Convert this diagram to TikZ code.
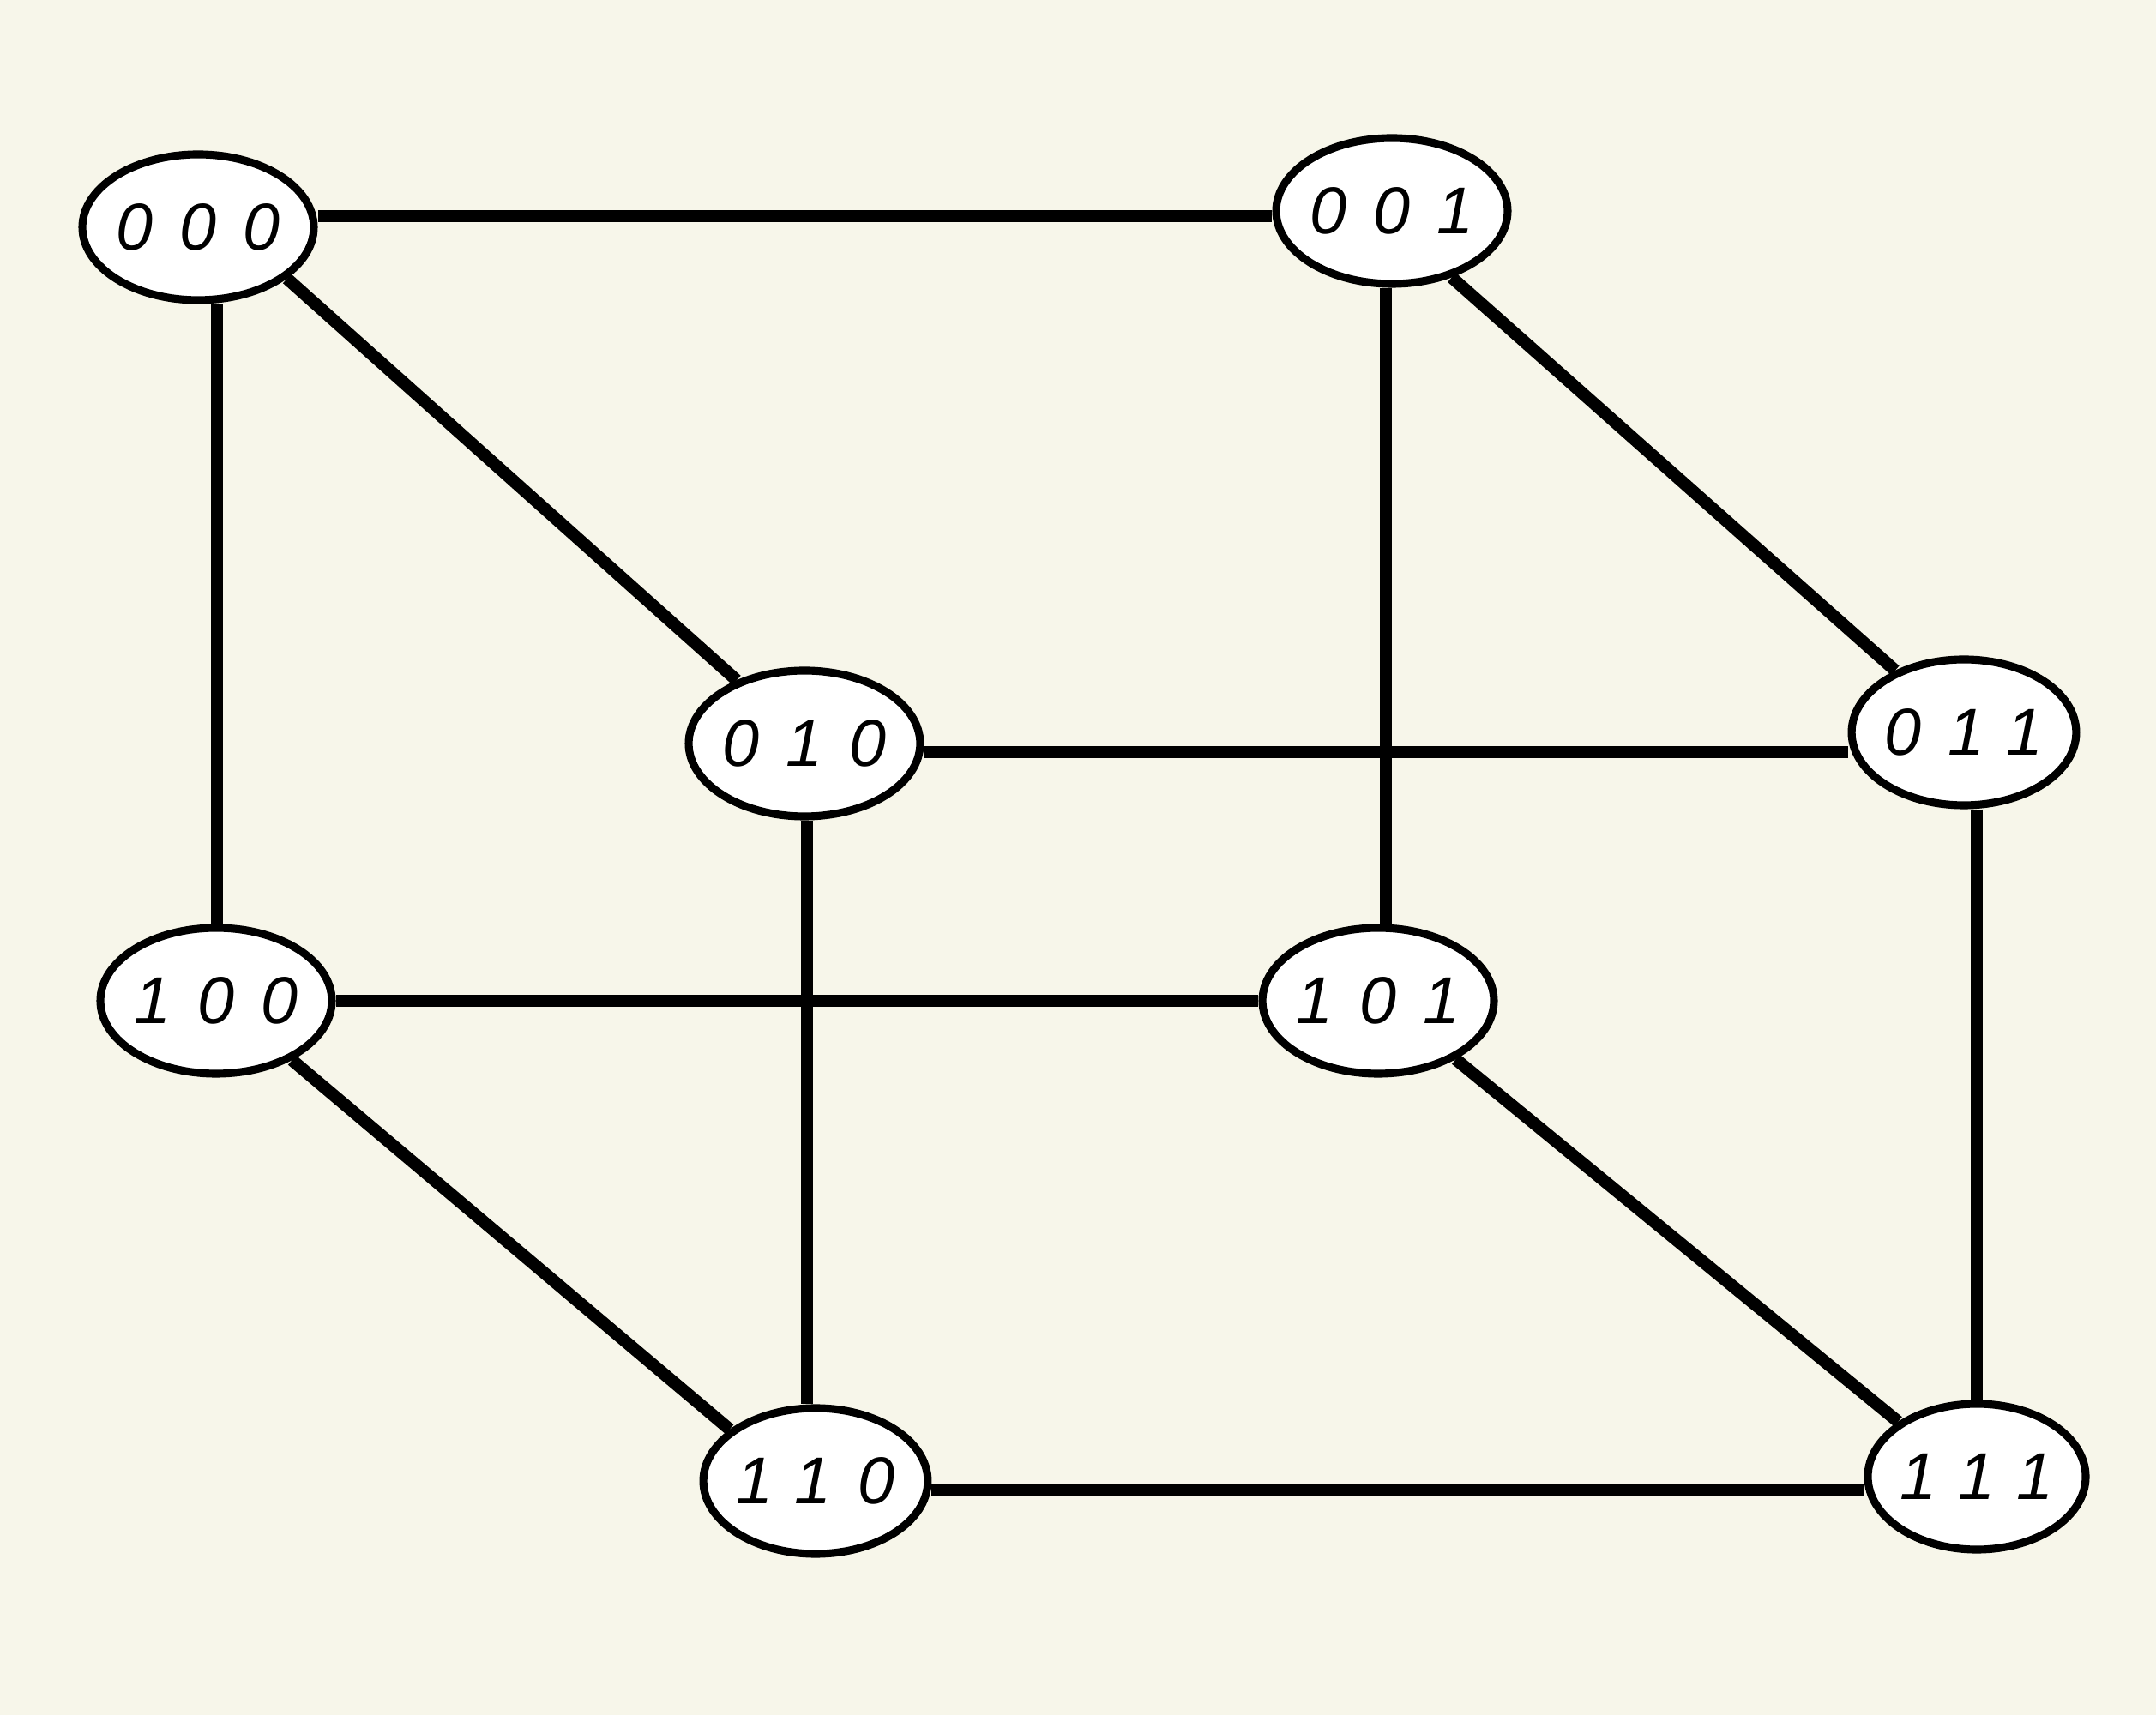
\documentclass[tikz,border=0pt]{standalone}
\usepackage{fontspec}
\newfontfamily\handfont[LetterSpace=40]{Liberation Sans}
\usetikzlibrary{shapes.geometric}
\definecolor{paper}{RGB}{247,246,234}

\begin{document}
\begin{tikzpicture}[
    vertex/.style={ellipse, draw, fill=white, line width=2.6pt, minimum width=2.54cm, minimum height=1.70cm, inner sep=0pt, font=\handfont\itshape\fontsize{22}{26}\selectfont},
    edge/.style={line width=4.1pt}
]
    % Page and background
    \useasboundingbox (0,0) rectangle (25.14,20);
    \fill[paper] (0,0) rectangle (25.14,20);

    % Rows and columns the straight edges run along
    \coordinate (R1) at (0, 17.48); \coordinate (R2) at (0, 11.23);
    \coordinate (R3) at (0, 8.33);  \coordinate (R4) at (0, 2.62);
    \coordinate (C1) at (2.53, 0);  \coordinate (C2) at (9.41, 0);
    \coordinate (C3) at (16.16, 0); \coordinate (C4) at (23.05, 0);

    % 1. Cube vertices (binary labels)
    \node[vertex] (v000) at (2.31, 17.35) {000};
    \node[vertex] (v001) at (16.23, 17.54) {001};
    \node[vertex] (v010) at (9.38, 11.33) {010};
    \node[vertex] (v011) at (22.90, 11.46) {011};
    \node[vertex] (v100) at (2.52, 8.33) {100};
    \node[vertex] (v101) at (16.07, 8.33) {101};
    \node[vertex] (v110) at (9.51, 2.73) {110};
    \node[vertex] (v111) at (23.05, 2.78) {111};

    % 2. Edges (vertices differing in one bit)
    \begin{scope}[edge]
        % Horizontal
        \draw (v000.east |- R1) -- (v001.west |- R1);
        \draw (v010.east |- R2) -- (v011.west |- R2);
        \draw (v100.east |- R3) -- (v101.west |- R3);
        \draw (v110.east |- R4) -- (v111.west |- R4);
        % Vertical
        \draw (C1 |- v000.south) -- (C1 |- v100.north);
        \draw (C3 |- v001.south) -- (C3 |- v101.north);
        \draw (C2 |- v010.south) -- (C2 |- v110.north);
        \draw (C4 |- v011.south) -- (C4 |- v111.north);
        % Diagonals
        \draw (v000.-30) -- (v010.137);
        \draw (v001.-48) -- (v011.138);
        \draw (v100.-38) -- (v110.149);
        \draw (v101.-37) -- (v111.145);
    \end{scope}

\end{tikzpicture}
\end{document}
